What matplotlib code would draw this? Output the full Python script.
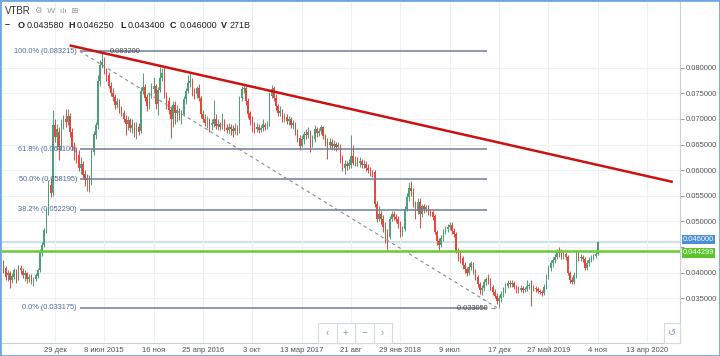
import matplotlib
matplotlib.use('Agg')
import matplotlib.pyplot as plt
import matplotlib.dates as mdates
import matplotlib.transforms as mtransforms
from matplotlib.patches import Rectangle
import numpy as np
import pandas as pd

plt.rcParams['font.family'] = ['Liberation Sans', 'DejaVu Sans']

# weekly candles, values in 1e-4 RUB
first_week = '2014-07-14'
opens = [418, 410, 395, 400, 386, 392, 405, 391, 410, 404, 396, 399, 388, 394, 384, 387, 393, 405, 438, 455,
         483, 520, 572, 556, 688, 665, 675, 645, 690, 700, 695, 705, 675, 648, 636, 630, 605, 612, 592, 580,
         585, 575, 635, 668, 688, 775, 805, 812, 795, 785, 765, 750, 742, 728, 733, 718, 712, 700, 690, 698,
         682, 690, 678, 685, 676, 755, 762, 742, 725, 745, 758, 765, 730, 756, 780, 795, 745, 735, 718, 700,
         728, 712, 718, 705, 710, 738, 755, 770, 775, 752, 748, 760, 740, 710, 700, 692, 698, 688, 690, 700,
         686, 690, 685, 695, 682, 678, 685, 680, 676, 682, 675, 740, 758, 760, 735, 712, 698, 690, 680, 684,
         678, 682, 688, 684, 690, 745, 760, 740, 726, 712, 715, 700, 704, 696, 700, 688, 690, 676, 662, 648,
         660, 670, 668, 675, 650, 660, 680, 672, 676, 684, 666, 655, 650, 656, 648, 652, 645, 648, 625, 605,
         612, 608, 610, 628, 615, 620, 614, 618, 610, 612, 604, 602, 596, 596, 535, 505, 515, 505, 490, 478,
         470, 505, 515, 508, 505, 495, 480, 486, 525, 548, 565, 560, 535, 520, 538, 515, 530, 525, 528, 520,
         518, 510, 480, 462, 455, 468, 480, 486, 490, 494, 482, 476, 442, 430, 428, 415, 408, 400, 412, 418,
         405, 392, 378, 366, 370, 382, 388, 385, 372, 362, 355, 345, 350, 358, 366, 375, 380, 378, 380, 372,
         368, 366, 370, 366, 368, 374, 376, 372, 370, 368, 365, 362, 360, 372, 392, 410, 418, 424, 430, 442,
         440, 432, 436, 430, 400, 386, 382, 395, 432, 428, 430, 426, 410, 418, 425, 430, 432, 435.8]
highs = [425, 414, 405, 404, 400, 410, 408, 415, 416, 410, 405, 402, 398, 398, 392, 400, 410, 446, 460, 488,
         526, 580, 585, 717, 700, 690, 684, 700, 708, 719, 719, 712, 682, 655, 645, 640, 625, 618, 600, 592,
         590, 642, 676, 695, 785, 815, 832, 820, 800, 792, 772, 760, 748, 740, 738, 725, 718, 708, 705, 702,
         700, 695, 695, 692, 762, 790, 768, 748, 752, 770, 782, 768, 762, 801, 800, 802, 752, 742, 725, 735,
         735, 728, 722, 718, 745, 760, 785, 790, 780, 760, 765, 768, 745, 718, 710, 705, 702, 700, 737, 710,
         700, 695, 712, 700, 690, 692, 690, 688, 692, 688, 745, 765, 768, 765, 740, 715, 705, 695, 692, 690,
         688, 700, 692, 696, 752, 766, 764, 748, 730, 725, 720, 712, 710, 706, 704, 698, 695, 680, 668, 668,
         676, 680, 685, 678, 668, 688, 685, 682, 688, 686, 670, 662, 662, 660, 658, 656, 655, 652, 630, 620,
         618, 622, 668, 650, 628, 626, 625, 622, 620, 618, 612, 606, 600, 600, 540, 530, 520, 512, 498, 485,
         510, 520, 520, 515, 510, 500, 492, 530, 555, 577, 578, 566, 540, 545, 545, 535, 535, 532, 532, 525,
         522, 514, 484, 468, 474, 486, 492, 496, 499, 498, 488, 480, 448, 440, 432, 420, 412, 418, 422, 420,
         408, 396, 382, 376, 388, 392, 398, 390, 376, 368, 360, 356, 364, 372, 380, 386, 386, 385, 384, 376,
         374, 376, 374, 372, 385, 380, 385, 376, 374, 372, 368, 366, 378, 398, 415, 424, 430, 436, 446, 450,
         446, 440, 440, 434, 404, 392, 402, 442, 440, 436, 434, 430, 424, 430, 434, 436, 440, 462.5]
lows = [400, 386, 383, 371, 380, 388, 380, 386, 398, 390, 384, 380, 382, 378, 374, 383, 390, 402, 433, 450,
        478, 512, 548, 550, 655, 640, 620, 640, 680, 685, 688, 665, 640, 620, 615, 598, 592, 585, 570, 560,
        557, 572, 630, 660, 680, 765, 800, 788, 775, 760, 745, 735, 720, 722, 712, 705, 695, 668, 678, 675,
        672, 665, 660, 668, 672, 748, 735, 715, 720, 740, 750, 720, 708, 752, 775, 740, 720, 710, 662, 684,
        690, 695, 698, 690, 705, 730, 750, 762, 745, 738, 740, 735, 702, 694, 686, 682, 675, 678, 684, 680,
        678, 678, 680, 676, 672, 672, 668, 665, 670, 668, 672, 735, 750, 728, 702, 688, 675, 672, 674, 672,
        674, 676, 678, 680, 686, 740, 735, 718, 705, 705, 695, 694, 690, 688, 682, 680, 668, 655, 640, 645,
        652, 660, 662, 636, 645, 655, 665, 666, 670, 660, 648, 622, 642, 640, 640, 638, 640, 615, 598, 592,
        600, 602, 605, 610, 608, 608, 606, 604, 604, 598, 594, 588, 586, 528, 498, 500, 495, 480, 458, 444,
        466, 500, 502, 498, 488, 470, 472, 482, 520, 540, 550, 528, 505, 515, 487, 508, 516, 518, 512, 510,
        502, 475, 455, 444, 450, 462, 475, 480, 484, 476, 470, 438, 422, 418, 408, 400, 394, 396, 406, 398,
        385, 372, 358, 356, 364, 376, 378, 366, 356, 350, 338, 331, 342, 352, 360, 370, 372, 372, 368, 360,
        360, 362, 360, 362, 364, 368, 336, 364, 362, 360, 358, 355, 356, 368, 388, 404, 412, 418, 426, 430,
        426, 426, 424, 396, 380, 377, 378, 390, 422, 422, 420, 405, 406, 414, 420, 424, 428, 434]
closes = [408, 392, 400, 385, 393, 405, 390, 410, 405, 395, 400, 388, 392, 383, 388, 395, 405, 440, 455, 483,
          520, 572, 556, 688, 665, 680, 645, 690, 700, 695, 705, 675, 645, 635, 628, 605, 612, 590, 580, 585,
          575, 635, 670, 688, 775, 805, 812, 795, 785, 765, 750, 742, 728, 735, 718, 712, 700, 690, 698, 682,
          688, 678, 685, 675, 755, 762, 740, 725, 745, 758, 765, 730, 756, 780, 790, 745, 730, 718, 700, 728,
          712, 718, 705, 710, 738, 755, 770, 775, 752, 748, 760, 740, 710, 700, 692, 698, 688, 692, 700, 686,
          690, 685, 695, 682, 678, 685, 680, 676, 682, 675, 740, 758, 760, 735, 710, 698, 690, 680, 684, 678,
          682, 690, 684, 690, 745, 758, 740, 725, 712, 716, 700, 704, 696, 700, 688, 692, 675, 662, 648, 660,
          670, 668, 675, 648, 660, 680, 672, 676, 684, 666, 655, 650, 656, 648, 652, 645, 650, 625, 605, 612,
          608, 614, 628, 615, 620, 614, 618, 610, 612, 604, 600, 595, 592, 535, 505, 515, 505, 490, 478, 470,
          505, 515, 508, 505, 495, 480, 486, 525, 548, 565, 560, 535, 520, 538, 515, 530, 525, 528, 520, 516,
          508, 480, 462, 455, 468, 480, 486, 490, 494, 482, 476, 442, 430, 425, 415, 408, 400, 412, 418, 405,
          392, 378, 366, 370, 382, 388, 385, 372, 362, 355, 345, 350, 358, 366, 375, 380, 378, 380, 372, 368,
          366, 370, 366, 368, 374, 376, 372, 370, 368, 365, 362, 360, 372, 392, 410, 418, 424, 430, 442, 438,
          432, 436, 430, 400, 385, 382, 395, 432, 428, 430, 426, 410, 418, 425, 430, 432, 436, 460]

fib_start, fib_end = '2015-03-20', '2018-11-08'
diag_end = '2018-12-10'
fib_levels = [0.083215, 0.064100, 0.058195, 0.052290, 0.033175]
fib_labels = ['100.0% (0.083215)', '61.8% (0.064100)', '50.0% (0.058195)',
              '38.2% (0.052290)', '0.0% (0.033175)']
trend_dates = ['2015-02-19', '2020-07-02']
trend_values = [0.0843, 0.05776]
support_level = 0.044299
last_price = 0.046
price_ticks = [0.035, 0.040, 0.045, 0.050, 0.055, 0.060, 0.065, 0.070, 0.075, 0.080]
date_ticks = ['2014-12-29', '2015-06-08', '2015-11-16', '2016-04-25', '2016-10-03', '2017-03-13',
              '2017-08-21', '2018-01-29', '2018-07-09', '2018-12-17', '2019-05-27', '2019-11-04', '2020-04-13']
date_labels = ['29 дек', '8 июн 2015', '16 ноя', '25 апр 2016', '3 окт', '13 мар 2017',
               '21 авг', '29 янв 2018', '9 июл', '17 дек', '27 май 2019', '4 ноя', '13 апр 2020']

W, H = 720, 356
fig = plt.figure(figsize=(W / 100, H / 100), dpi=100)
ax = fig.add_axes([2 / W, 13 / H, 678 / W, 341 / H])

def d(s):
    return mdates.date2num(pd.Timestamp(s))

scale = 1e-4
o = np.array(opens) * scale
h = np.array(highs) * scale
l = np.array(lows) * scale
c = np.array(closes) * scale
x = mdates.date2num(pd.date_range(first_week, periods=len(c), freq='7D'))

green, red = '#4d9f7a', '#e5483a'
cols = np.where(c >= o, green, red)

# reference lines under the candles
ax.axhline(last_price, color='#cfe0ea', lw=1.6, zorder=1)
ax.axhline(support_level, color='#66cc33', lw=1.8, zorder=4)

ax.vlines(x, l, h, colors=cols, lw=0.7, zorder=2)
body = np.maximum(np.abs(c - o), 0.00008)
ax.bar(x, body, bottom=np.minimum(o, c), width=4.6, color=cols, lw=0, zorder=3)

# fibonacci retracement
for lev, lab in zip(fib_levels, fib_labels):
    ax.hlines(lev, d(fib_start), d(fib_end), color='#6b7f99', lw=1.1, zorder=3)
    ax.annotate(lab, (d(fib_start), lev), xytext=(-2, 0), textcoords='offset points',
                ha='right', va='center', fontsize=5.3, color='#4a6d9c')
ax.plot([d(fib_start), d(diag_end)], [fib_levels[0], fib_levels[-1]],
        ls=(0, (3, 3)), color='#8a8a8a', lw=0.8, zorder=3)
ax.annotate('0.083200', (d('2015-06-08'), fib_levels[0]), xytext=(4, 0), textcoords='offset points',
            ha='left', va='center', fontsize=5.3, color='#444444')
ax.annotate('0.033050 →', (d(diag_end), fib_levels[-1]), xytext=(0, -0.5), textcoords='offset points',
            ha='right', va='center', fontsize=5.3, color='#444444')

# trend line
ax.plot([d(s) for s in trend_dates], trend_values, color='#cc1111', lw=1.8, zorder=5)

base = d('2014-12-29')
ax.set_xlim(base + (2 - 54.9) / 0.30652, base + (680 - 54.9) / 0.30652)
ax.set_ylim(0.026283, 0.09282)

ax.yaxis.tick_right()
ax.set_yticks(price_ticks)
# the 0.045 label sits under the price tags
ax.set_yticklabels(['' if abs(v - 0.045) < 1e-9 else '%.6f' % v for v in price_ticks])
ax.set_xticks([d(s) for s in date_ticks])
ax.set_xticklabels(date_labels)
ax.tick_params(axis='y', labelsize=5.5, labelcolor='#555555', color='#999999', length=3, pad=1)
ax.tick_params(axis='x', labelsize=5.5, labelcolor='#555555', length=0, pad=3)
ax.grid(color='#eef1f4', lw=0.8, zorder=0)
for s in ['top', 'left']:
    ax.spines[s].set_visible(False)
for s in ['right', 'bottom']:
    ax.spines[s].set_color('#c5cfd9')

# price tags on the scale
tr = mtransforms.blended_transform_factory(ax.transAxes, ax.transData)
ax.annotate('%.6f' % last_price, (1.004, last_price), xycoords=tr, xytext=(0, 1.6),
            textcoords='offset points', ha='left', va='center', fontsize=5.4, color='white',
            bbox=dict(boxstyle='square,pad=0.15', fc='#4a8fd8', ec='none'), zorder=6,
            annotation_clip=False)
ax.annotate('%.6f' % support_level, (1.004, support_level), xycoords=tr, xytext=(0, -1.6),
            textcoords='offset points', ha='left', va='center', fontsize=5.4, color='white',
            bbox=dict(boxstyle='square,pad=0.15', fc='#5cc52c', ec='none'), zorder=6,
            annotation_clip=False)

# header
def fx(px):
    return px / W

def fy(py):
    return 1 - py / H

fig.text(fx(5), fy(11), 'VTBR', fontsize=7, color='#333333', va='center')
fig.text(fx(35), fy(11), '⚙  W  ılı  ⊞', fontsize=6, color='#999999', va='center')
parts = [('–', True, 5), ('O', True, 18), ('0.043580', False, 27), ('H', True, 68), ('0.046250', False, 77),
         ('L', True, 120), ('0.043400', False, 128), ('C', True, 170), ('0.046000', False, 180),
         ('V', True, 221), ('271B', False, 230)]
for txt, bold, px in parts:
    fig.text(fx(px), fy(25), txt, fontsize=6.5, color='#222222', va='center',
             fontweight='bold' if bold else 'normal')

# navigation buttons
fig.add_artist(Rectangle((fx(318), fy(343)), 74 / W, 20 / H, transform=fig.transFigure,
                         fc='white', ec='#d3dae2', lw=0.8))
for i, s in enumerate(['‹', '+', '−', '›']):
    fig.text(fx(327 + i * 18.5), fy(333), s, fontsize=7, color='#8899aa', ha='center', va='center')
    if i:
        fig.add_artist(plt.Line2D([fx(318 + i * 18.5)] * 2, [fy(343), fy(323)],
                                  transform=fig.transFigure, color='#d3dae2', lw=0.8))
fig.add_artist(Rectangle((fx(664), fy(343)), 16 / W, 20 / H, transform=fig.transFigure,
                         fc='white', ec='#d3dae2', lw=0.8))
fig.text(fx(672), fy(333), '↺', fontsize=7, color='#8899aa', ha='center', va='center')

fig.add_artist(Rectangle((0, 0), 1, 1, transform=fig.transFigure, fill=False, ec='#6fa8dc', lw=2))

fig.savefig('out.png', dpi=100)
